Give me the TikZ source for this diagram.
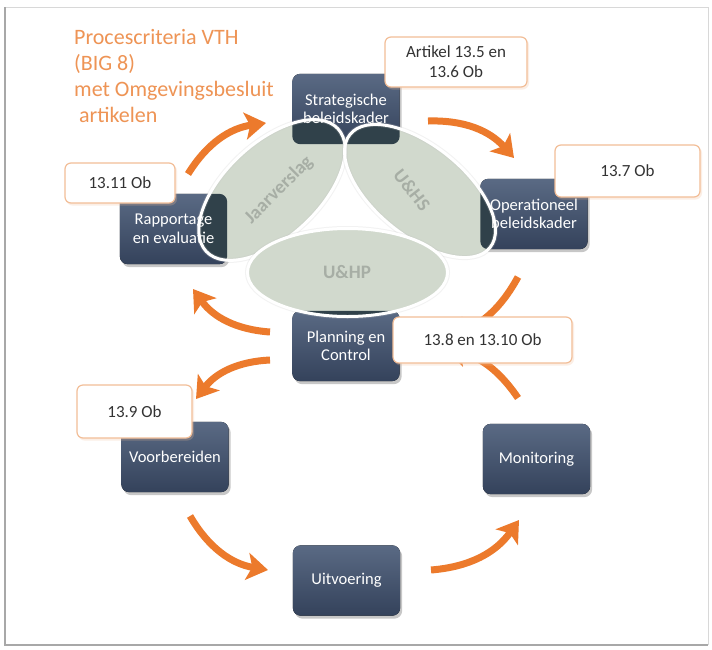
\documentclass[tikz,border=0pt]{standalone}
\usepackage{fontspec}
\setmainfont{Carlito}
\usetikzlibrary{arrows.meta}
\pgfdeclarelayer{background}
\pgfdeclarelayer{ell}
\pgfdeclarelayer{fg}
\pgfsetlayers{background,ell,main,fg}
\definecolor{titleorange}{HTML}{EE9455}
\definecolor{arroworange}{HTML}{EC7A2C}
\definecolor{callborder}{HTML}{F2BE98}
\definecolor{calltext}{HTML}{333333}
\definecolor{boxtop}{HTML}{5A6A84}
\definecolor{boxbot}{HTML}{34425B}
\definecolor{ellfill}{HTML}{D1D9CD}
\definecolor{ellteal}{HTML}{30414A}
\definecolor{labelgray}{HTML}{A7AEA5}
\definecolor{framegray}{HTML}{A8A8A8}
\tikzset{
  procbox/.style={minimum width=107pt, minimum height=70pt, inner sep=0pt, text=white, align=center, font=\fontsize{16.5}{18.5}\selectfont},
  callout/.style={draw=callborder, line width=1.2pt, fill=white, rounded corners=6pt, inner sep=0pt, text=calltext, align=center, font=\fontsize{17}{20}\selectfont},
  titletext/.style={anchor=base west, inner sep=0pt, text=titleorange, font=\fontsize{22}{26}\selectfont},
  flow/.style={draw=arroworange, line width=7pt, -{Stealth[length=21pt,width=27pt,inset=5pt]}},
  elllabel/.style={text=labelgray, font=\fontsize{19}{22}\selectfont\bfseries, inner sep=0pt},
  ellborder/.style={draw=white, line width=3pt},
  ellhalo/.style={draw=black!25, line width=5pt, opacity=.2},
}
\begin{document}
\begin{tikzpicture}[x=1pt,y=-1pt]
\useasboundingbox (0,0) rectangle (712,649);
% title
\node[titletext] (t1) at (74,44) {Procescriteria VTH};
\node[titletext] (t2) at (74,70) {(BIG 8)};
\node[titletext] (t3) at (74,96) {met Omgevingsbesluit};
\node[titletext] (t4) at (79,122) {artikelen};
% process boxes (text)
\node[procbox] (strat) at (346,109) {Strategische\\beleidskader};
\node[procbox] (oper) at (534,214) {Operationeel\\beleidskader};
\node[procbox] (rapp) at (173.5,229) {Rapportage\\en evaluatie};
\node[procbox] (plan) at (346,346) {Planning en\\Control};
\node[procbox] (voor) at (175,457) {Voorbereiden};
\node[procbox] (moni) at (536.5,459) {Monitoring};
\node[procbox] (uitv) at (346.5,580.5) {Uitvoering};
% callouts
\node[callout, minimum width=142pt, minimum height=50pt] (c1) at (456,62) {Artikel 13.5 en\\13.6 Ob};
\node[callout, minimum width=145pt, minimum height=52pt] (c2) at (627.5,171) {13.7 Ob};
\node[callout, minimum width=110pt, minimum height=40pt] (c3) at (120,183) {13.11 Ob};
\node[callout, minimum width=179pt, minimum height=46pt] (c4) at (482.5,340) {13.8 en 13.10 Ob};
\node[callout, minimum width=115pt, minimum height=53pt] (c5) at (134.5,411.5) {13.9 Ob};
% arrow end points
\coordinate (a1s) at (188,174); \coordinate (a1e) at (266,123);
\coordinate (a2s) at (428,121); \coordinate (a2e) at (514,158);
\coordinate (a3s) at (518,277); \coordinate (a3e) at (446,336);
\coordinate (a4s) at (518,398); \coordinate (a4e) at (445,349);
\coordinate (a5s) at (270,332); \coordinate (a5e) at (193,289);
\coordinate (a6s) at (270,360); \coordinate (a6e) at (196,399);
\coordinate (a7s) at (190,516); \coordinate (a7e) at (268,570);
\coordinate (a8s) at (431,570); \coordinate (a8e) at (519,520);
\begin{pgfonlayer}{background}
  \fill[white] (0,0) rectangle (712,649);
  \draw[framegray!45, line width=1pt] (5,7) -- (708,7) -- (708,645);
  \draw[framegray, line width=2pt] (5,7) -- (5,645) -- (708,645);
  \draw[flow] (a1s) to[bend left=25] (a1e);
  \draw[flow] (a2s) to[bend left=25] (a2e);
  \draw[flow] (a3s) to[bend left=22] (a3e);
  \draw[flow] (a4s) to[bend right=22] (a4e);
  \draw[flow] (a5s) to[bend left=25] (a5e);
  \draw[flow] (a6s) to[bend right=25] (a6e);
  \draw[flow] (a7s) to[bend right=25] (a7e);
  \draw[flow] (a8s) to[bend right=25] (a8e);
  \foreach \b in {strat,oper,rapp,plan,voor,moni,uitv} {
    \fill[black, opacity=.22, rounded corners=8pt] ([shift={(2,3)}]\b.south west) rectangle ([shift={(2,3)}]\b.north east);
    \fill[top color=boxtop, bottom color=boxbot, rounded corners=8pt] (\b.south west) rectangle (\b.north east);
  }
  \foreach \c in {c1,c2,c3,c4,c5} {
    \fill[callborder, opacity=.25, rounded corners=7pt] ([shift={(1.5,2)}]\c.south west) rectangle ([shift={(1.5,2)}]\c.north east);
  }
\end{pgfonlayer}
\begin{pgfonlayer}{ell}
  % left ellipse
  \fill[ellfill, rotate around={43:(272,190)}] (272,190) ellipse [x radius=90pt, y radius=47pt];
  \begin{scope}
    \clip[rotate around={43:(272,190)}] (272,190) ellipse [x radius=90pt, y radius=47pt];
    \foreach \b in {strat,rapp} \fill[ellteal, rounded corners=8pt] (\b.south west) rectangle (\b.north east);
  \end{scope}
  % right ellipse
  \fill[ellfill, rotate around={-39:(420,191)}] (420,191) ellipse [x radius=90pt, y radius=45pt];
  \begin{scope}
    \clip[rotate around={-39:(420,191)}] (420,191) ellipse [x radius=90pt, y radius=45pt];
    \foreach \b in {strat,oper} \fill[ellteal, rounded corners=8pt] (\b.south west) rectangle (\b.north east);
  \end{scope}
\end{pgfonlayer}
\begin{pgfonlayer}{fg}
  \draw[ellhalo, rotate around={43:(272,190)}] (272,190) ellipse [x radius=90pt, y radius=47pt];
  \draw[ellborder, rotate around={43:(272,190)}] (272,190) ellipse [x radius=90pt, y radius=47pt];
  \draw[ellhalo, rotate around={-39:(420,191)}] (420,191) ellipse [x radius=90pt, y radius=45pt];
  \draw[ellborder, rotate around={-39:(420,191)}] (420,191) ellipse [x radius=90pt, y radius=45pt];
  % bottom ellipse
  \draw[ellhalo] (347.5,272.5) ellipse [x radius=100pt, y radius=44pt];
  \fill[ellfill] (347.5,272.5) ellipse [x radius=100pt, y radius=44pt];
  \begin{scope}
    \clip (347.5,272.5) ellipse [x radius=100pt, y radius=44pt];
    \fill[ellteal, rounded corners=8pt] (plan.south west) rectangle (plan.north east);
  \end{scope}
  \draw[ellborder] (347.5,272.5) ellipse [x radius=100pt, y radius=44pt];
  \node[elllabel, rotate=45] (jv) at (279,190) {Jaarverslag};
  \node[elllabel, rotate=-52] (uhs) at (412,190) {U\&HS};
  \node[elllabel] (uhp) at (347,272) {U\&HP};
\end{pgfonlayer}
\end{tikzpicture}
\end{document}
